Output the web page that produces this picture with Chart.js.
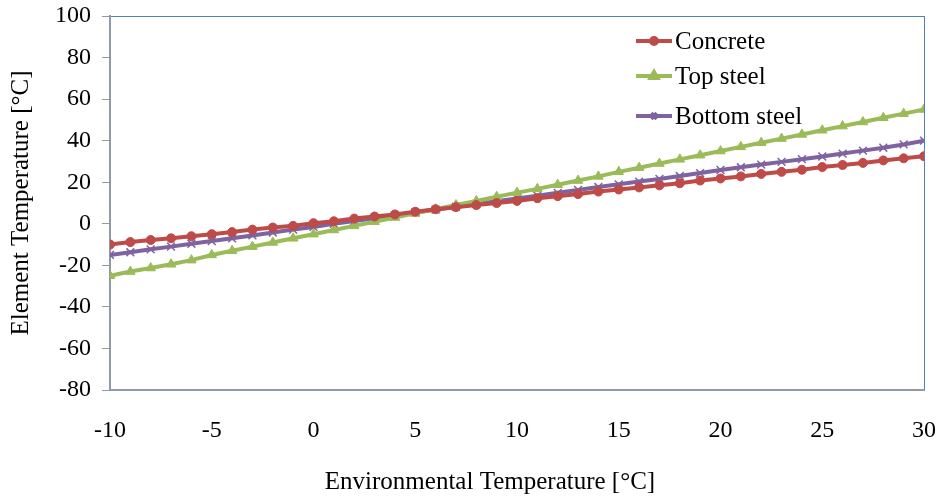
<!DOCTYPE html>
<html>
<head>
<meta charset="utf-8">
<script src="https://cdn.jsdelivr.net/npm/chart.js@4.4.0/dist/chart.umd.min.js"></script>
<style>
  html, body { margin: 0; padding: 0; background: #fff; }
  #wrap { width: 943px; height: 503px; position: relative; }
</style>
</head>
<body>
<div id="wrap"><canvas id="chart-temp"></canvas></div>
<script>
var envTemp = [-10, -9, -8, -7, -6, -5, -4, -3, -2, -1, 0, 1, 2, 3, 4, 5, 6, 7, 8, 9, 10,
  11, 12, 13, 14, 15, 16, 17, 18, 19, 20, 21, 22, 23, 24, 25, 26, 27, 28, 29, 30];
var concrete = [-10, -8.8, -7.8, -7, -6, -5, -4, -2.8, -1.8, -1, 0.3, 1.2, 2.5, 3.5, 4.5, 5.8, 7, 8, 9, 10, 11,
  12.3, 13.3, 14.3, 15.5, 16.5, 17.5, 18.5, 19.5, 20.8, 21.8, 22.8, 24, 25, 26, 27.3, 28.3, 29.3, 30.5, 31.5, 32.5];
var topSteel = [-25, -23, -21.3, -19.5, -17.5, -15, -13, -11, -9, -7, -5, -3, -1, 1, 3, 5, 7, 9, 11, 13, 15,
  16.8, 18.8, 20.8, 22.8, 25, 27, 29, 31, 33, 35, 37, 39, 41, 43, 45, 47, 49, 51, 53, 55];
var bottomSteel = [-15, -13.7, -12.3, -11, -9.6, -8.3, -7, -5.6, -4.2, -2.8, -1.5, 0, 1.3, 2.7, 4, 5.5, 6.8, 8.2, 9.5, 10.8, 12.2,
  13.5, 14.9, 16.3, 17.7, 19, 20.3, 21.6, 23, 24.4, 25.9, 27.2, 28.5, 29.8, 31.1, 32.4, 33.8, 35.2, 36.6, 38.2, 40];
var seriesNames = ['Concrete', 'Top steel', 'Bottom steel'];
var xTitle = 'Environmental Temperature [°C]';
var yTitle = 'Element Temperature [°C]';

var red = '#be4b48';
var green = '#9bbb59';
var purple = '#7f63a1';
var grey = '#8f9aa6';
var serif = "'Liberation Serif', 'Times New Roman', serif";

function pts(ys) {
  return envTemp.map(function(x, i) { return { x: x, y: ys[i] }; });
}

// blue frame around plot area (top/right show, axes cover left/bottom)
var frame = {
  id: 'frame',
  beforeDraw: function(chart) {
    var a = chart.chartArea, c = chart.ctx;
    c.save();
    c.strokeStyle = '#4f81bd';
    c.lineWidth = 1;
    c.strokeRect(Math.round(a.left) + 0.5, Math.round(a.top) + 0.5, Math.round(a.right - a.left), Math.round(a.bottom - a.top));
    c.restore();
  }
};

// legend drawn inside plot area, line + marker like the original; x title is a bit left of centre
var inLegend = {
  id: 'inLegend',
  afterDraw: function(chart) {
    var c = chart.ctx;
    var rows = [41, 76, 116];
    c.save();
    chart.data.datasets.forEach(function(ds, i) {
      var y = rows[i];
      c.strokeStyle = ds.borderColor;
      c.fillStyle = ds.borderColor;
      c.lineWidth = 4;
      c.beginPath(); c.moveTo(636, y); c.lineTo(672, y); c.stroke();
      Chart.helpers.drawPoint(c, {
        pointStyle: ds.pointStyle, radius: ds.pointRadius - 1.5, borderWidth: ds.pointBorderWidth || 1
      }, 654, y);
      c.fillStyle = '#000';
      c.font = '25px ' + serif;
      c.textBaseline = 'middle';
      c.textAlign = 'left';
      c.fillText(ds.label, 675, y + 1);
    });
    c.font = '25px ' + serif;
    c.textAlign = 'center';
    c.textBaseline = 'middle';
    c.fillText(xTitle, 490, 482);
    c.restore();
  }
};

new Chart(document.getElementById('chart-temp').getContext('2d'), {
  type: 'line',
  data: {
    datasets: [
      { label: seriesNames[0], data: pts(concrete), borderColor: red, backgroundColor: red, borderWidth: 4,
        pointStyle: 'circle', pointRadius: 4.5, pointBorderWidth: 1, pointBorderColor: red },
      { label: seriesNames[1], data: pts(topSteel), borderColor: green, backgroundColor: green, borderWidth: 4,
        pointStyle: 'triangle', pointRadius: 5.5, pointBorderWidth: 1, pointBorderColor: green },
      { label: seriesNames[2], data: pts(bottomSteel), borderColor: purple, backgroundColor: purple, borderWidth: 4,
        pointStyle: 'crossRot', pointRadius: 5.5, pointBorderWidth: 1.5, pointBorderColor: purple }
    ]
  },
  options: {
    responsive: true, maintainAspectRatio: false, animation: false,
    layout: { padding: { top: 16, right: 19, left: 0, bottom: 0 } },
    plugins: { legend: { display: false }, tooltip: { enabled: false } },
    scales: {
      x: {
        type: 'linear', min: -10, max: 30,
        afterFit: function(s) { s.height = 113; s.paddingRight = 0; s.paddingLeft = 0; },
        border: { color: grey, width: 2 },
        grid: { display: true, drawOnChartArea: false, drawTicks: false },
        ticks: { stepSize: 5, padding: 26, color: '#000', font: { family: serif, size: 24 } }
      },
      y: {
        min: -80, max: 100,
        afterFit: function(s) { s.width = 110; s.paddingTop = 0; s.paddingBottom = 0; },
        border: { color: grey, width: 2 },
        grid: { drawOnChartArea: false, drawTicks: true, tickLength: 8, color: grey, lineWidth: 1 },
        ticks: { stepSize: 20, padding: 11, color: '#000', font: { family: serif, size: 24 } },
        title: { display: true, text: yTitle, color: '#000',
          font: { family: serif, size: 25 }, padding: { top: 6, bottom: 0 } }
      }
    }
  },
  plugins: [frame, inLegend]
});
</script>
</body>
</html>
